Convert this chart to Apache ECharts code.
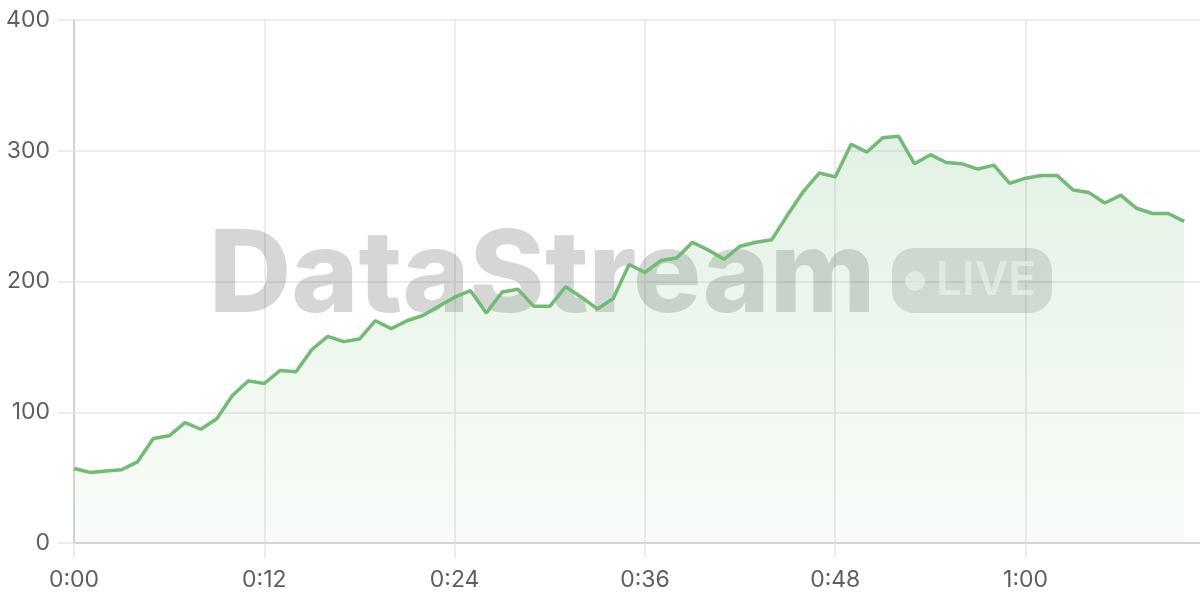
<!DOCTYPE html>
<html>
<head>
<meta charset="utf-8">
<style>
  html, body { margin: 0; padding: 0; background: #ffffff; }
  #chart { width: 1200px; height: 600px; }
</style>
<script src="https://cdn.jsdelivr.net/npm/echarts@6/dist/echarts.min.js"></script>
</head>
<body>
<div id="chart"></div>
<script>
const categories = [
  "0:00","0:01","0:02","0:03","0:04","0:05","0:06","0:07","0:08","0:09","0:10","0:11",
  "0:12","0:13","0:14","0:15","0:16","0:17","0:18","0:19","0:20","0:21","0:22","0:23",
  "0:24","0:25","0:26","0:27","0:28","0:29","0:30","0:31","0:32","0:33","0:34","0:35",
  "0:36","0:37","0:38","0:39","0:40","0:41","0:42","0:43","0:44","0:45","0:46","0:47",
  "0:48","0:49","0:50","0:51","0:52","0:53","0:54","0:55","0:56","0:57","0:58","0:59",
  "1:00","1:01","1:02","1:03","1:04","1:05","1:06","1:07","1:08","1:09","1:10","1:11"
];
const values = [
  57, 54, 55, 56, 62, 80, 82, 92, 87, 95, 113, 124,
  122, 132, 131, 148, 158, 154, 156, 170, 164, 170, 174, 181,
  188, 193, 176, 192, 194, 181, 181, 196, 188, 179, 187, 213,
  207, 216, 218, 230, 224, 217, 227, 230, 232, 251, 269, 283,
  280, 305, 299, 310, 311, 290, 297, 291, 290, 286, 289, 275,
  279, 281, 281, 270, 268, 260, 266, 256, 252, 252, 246
];
const yTicks = [0, 100, 200, 300, 400];
const watermarkText = "DataStream";
const badgeText = "LIVE";

const FONT = "Inter, 'Noto Sans', sans-serif";
const chart = echarts.init(document.getElementById('chart'), null, { renderer: 'canvas' });
chart.setOption({
  animation: false,
  backgroundColor: '#ffffff',
  grid: { left: 74, right: 0, top: 20, bottom: 57, containLabel: false },
  xAxis: {
    type: 'category',
    data: categories,
    boundaryGap: false,
    axisLine: { show: true, lineStyle: { color: '#cccccc', width: 1.5 } },
    axisTick: { show: true, interval: 11, length: 15, lineStyle: { color: '#e6e6e6', width: 1.5 } },
    axisLabel: { interval: 11, margin: 26, color: '#5f5f5f', fontSize: 23, fontFamily: FONT },
    splitLine: { show: true, interval: 11, lineStyle: { color: '#e6e6e6', width: 1.5 } }
  },
  yAxis: {
    type: 'value',
    min: yTicks[0],
    max: yTicks[yTicks.length - 1],
    interval: 100,
    axisLine: { show: true, lineStyle: { color: '#cccccc', width: 1.5 } },
    axisTick: { show: true, length: 16, lineStyle: { color: '#e6e6e6', width: 1.5 } },
    axisLabel: { margin: 24, color: '#5f5f5f', fontSize: 23, fontFamily: FONT },
    splitLine: { show: true, lineStyle: { color: '#e6e6e6', width: 1.5 } }
  },
  graphic: [
    {
      type: 'text', z: 1, silent: true,
      x: 209, y: 278,
      style: {
        text: watermarkText,
        font: "800 114px " + FONT,
        fill: 'rgba(0,0,0,0.16)',
        align: 'left', verticalAlign: 'middle'
      }
    },
    {
      type: 'rect', z: 1, silent: true,
      shape: { x: 892, y: 248, width: 160, height: 65, r: 22 },
      style: { fill: 'rgba(0,0,0,0.13)' }
    },
    {
      type: 'circle', z: 1, silent: true,
      shape: { cx: 915, cy: 281, r: 10 },
      style: { fill: 'rgba(255,255,255,0.6)' }
    },
    {
      type: 'text', z: 1, silent: true,
      x: 936, y: 281,
      style: {
        text: badgeText,
        font: "600 46px " + FONT,
        fill: 'rgba(255,255,255,0.6)',
        align: 'left', verticalAlign: 'middle'
      }
    }
  ],
  series: [{
    type: 'line',
    data: values,
    z: 3,
    symbol: 'none',
    smooth: false,
    lineStyle: { color: '#72ba76', width: 3.5 },
    areaStyle: {
      color: {
        type: 'linear', x: 0, y: 0, x2: 0, y2: 1,
        colorStops: [
          { offset: 0, color: 'rgba(109,186,113,0.28)' },
          { offset: 1, color: 'rgba(109,186,113,0.06)' }
        ]
      }
    }
  }]
});
</script>
</body>
</html>
